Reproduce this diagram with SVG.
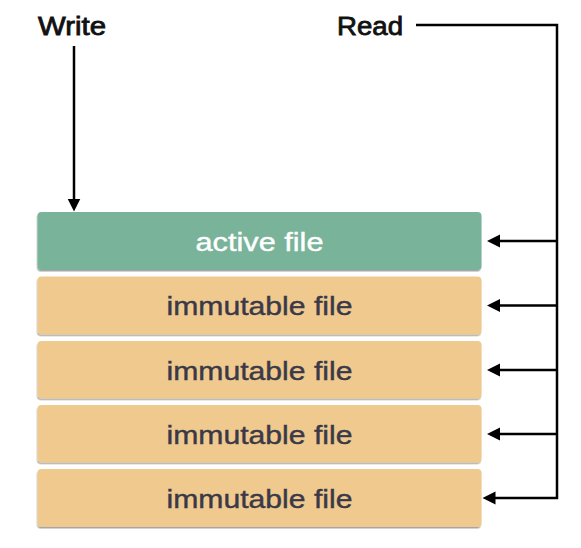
<svg xmlns="http://www.w3.org/2000/svg" width="581" height="548" viewBox="0 0 581 548">
  <defs>
    <marker id="ah" markerUnits="userSpaceOnUse" markerWidth="14" markerHeight="14" refX="0.5" refY="6.5" orient="auto">
      <path d="M0,0 L13,6.5 L0,13 z" fill="#000"/>
    </marker>
    <filter id="sh" x="-5%" y="-10%" width="110%" height="130%">
      <feDropShadow dx="-0.5" dy="1.5" stdDeviation="0.7" flood-color="#000" flood-opacity="0.35"/>
    </filter>
  </defs>
  <style>
    .lbl { font-family: "Liberation Sans", Arial, sans-serif; font-size: 25px; font-weight: normal; fill: #111; stroke: #111; stroke-width: 0.8; }
    .box { stroke: none; filter: url(#sh); }
    .active { fill: #79b39a; }
    .imm { fill: #f0c98e; }
    .t { font-family: "Liberation Sans", Arial, sans-serif; font-size: 25.5px; text-anchor: middle; stroke-width: 0.4; }
    .tw { fill: #ffffff; stroke: #ffffff; }
    .td { fill: #3a3947; stroke: #3a3947; }
    .ln { fill: none; stroke: #000; stroke-width: 2.5; }
  </style>
  <rect width="581" height="548" fill="#ffffff"/>

  <g id="write-label"><text class="lbl" x="38" y="35" textLength="68" lengthAdjust="spacingAndGlyphs">Write</text></g>
  <g id="read-label"><text class="lbl" x="337" y="35" textLength="66" lengthAdjust="spacingAndGlyphs">Read</text></g>

  <g id="active-file">
    <rect class="box active" x="37.5" y="212" width="444" height="58" rx="4"/>
    <text class="t tw" x="259.5" y="250.5" textLength="128" lengthAdjust="spacingAndGlyphs">active file</text>
  </g>
  <g id="immutable-file-1">
    <rect class="box imm" x="37.5" y="276.5" width="444" height="58" rx="4"/>
    <text class="t td" x="259.5" y="315" textLength="186" lengthAdjust="spacingAndGlyphs">immutable file</text>
  </g>
  <g id="immutable-file-2">
    <rect class="box imm" x="37.5" y="341" width="444" height="57.5" rx="4"/>
    <text class="t td" x="259.5" y="379.5" textLength="186" lengthAdjust="spacingAndGlyphs">immutable file</text>
  </g>
  <g id="immutable-file-3">
    <rect class="box imm" x="37.5" y="405" width="444" height="57.5" rx="4"/>
    <text class="t td" x="259.5" y="443.5" textLength="186" lengthAdjust="spacingAndGlyphs">immutable file</text>
  </g>
  <g id="immutable-file-4">
    <rect class="box imm" x="37.5" y="469" width="444" height="58" rx="4"/>
    <text class="t td" x="259.5" y="507.5" textLength="186" lengthAdjust="spacingAndGlyphs">immutable file</text>
  </g>

  <g id="connectors">
    <path class="ln" d="M74,46 V199" marker-end="url(#ah)"/>
    <path class="ln" d="M416,25 H557 V498 H495" stroke-linejoin="miter" marker-end="url(#ah)"/>
    <path class="ln" d="M557,241 H499.5" marker-end="url(#ah)"/>
    <path class="ln" d="M557,305.5 H499.5" marker-end="url(#ah)"/>
    <path class="ln" d="M557,370 H499.5" marker-end="url(#ah)"/>
    <path class="ln" d="M557,434 H499.5" marker-end="url(#ah)"/>
  </g>
</svg>
